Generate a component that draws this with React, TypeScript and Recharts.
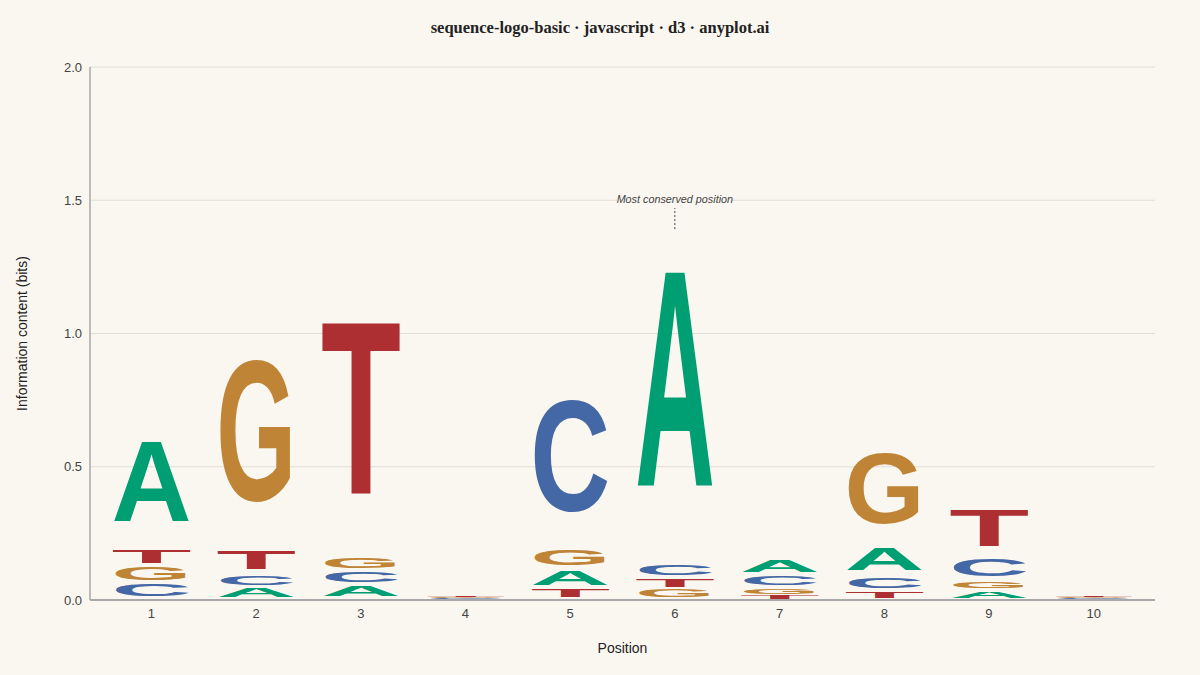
import { BarChart, Bar, XAxis, YAxis, CartesianGrid, ReferenceDot, Label } from "recharts";

const positions = ["1", "2", "3", "4", "5", "6", "7", "8", "9", "10"];
const letters = ["A", "C", "G", "T"];
const aBits = [0.408, 0.045, 0.052, 0.0035, 0.074, 1.097, 0.056, 0.108, 0.034, 0.003];
const cBits = [0.056, 0.047, 0.054, 0.0035, 0.559, 0.055, 0.046, 0.055, 0.084, 0.003];
const gBits = [0.064, 0.709, 0.055, 0.0035, 0.076, 0.0375, 0.028, 0.356, 0.035, 0.003];
const tBits = [0.065, 0.093, 0.877, 0.0035, 0.0375, 0.041, 0.016, 0.029, 0.185, 0.003];
const yTicks = [0, 0.5, 1, 1.5, 2];

const colors: Record<string, string> = {
  A: "#009E73",
  C: "#4467A6",
  G: "#BF8435",
  T: "#AD2F32",
};

const BG = "#FAF7F0";
const bits = [aBits, cBits, gBits, tBits];

// one row per position, letters sorted so the smallest sits at the bottom
const rows = positions.map((pos, i) => {
  const stack = letters
    .map((l, k) => ({ l, v: bits[k][i] }))
    .sort((a, b) => a.v - b.v);
  const row: Record<string, any> = { pos, total: 0 };
  stack.forEach((s, r) => {
    row[`r${r}`] = s.v;
    row[`l${r}`] = s.l;
    row.total += s.v;
  });
  return row;
});

const top = rows.reduce((best, r) => (r.total > best.total ? r : best), rows[0]);

const CAP = 69;
const ADV = 70;

function Glyph(props: any) {
  const { x, y, width, height, payload, rank } = props;
  const letter = payload[`l${rank}`];
  const glyphH = height * 0.73;
  if (!(glyphH > 0)) return null;
  const sx = width / ADV;
  const sy = glyphH / CAP;
  return (
    <text
      transform={`translate(${x + width / 2},${y + glyphH}) scale(${sx},${sy})`}
      x={0}
      y={0}
      textAnchor="middle"
      fontFamily="'Liberation Sans', Arial, sans-serif"
      fontWeight="bold"
      fontSize={100}
      textLength={ADV}
      lengthAdjust="spacingAndGlyphs"
      fill={colors[letter]}
    >
      {letter}
    </text>
  );
}

function Annotation(props: any) {
  const { cx, cy } = props;
  return (
    <g>
      <line x1={cx} x2={cx} y1={cy - 43} y2={cy - 64} stroke="#444" strokeWidth={1} strokeDasharray="2 2" />
      <rect x={cx - 57} y={cy - 80} width={114} height={13} fill={BG} />
      <text
        x={cx}
        y={cy - 73}
        textAnchor="middle"
        dominantBaseline="central"
        fontFamily="'Liberation Sans', Arial, sans-serif"
        fontStyle="italic"
        fontSize={10.8}
        fill="#444"
      >
        Most conserved position
      </text>
    </g>
  );
}

export default function App() {
  return (
    <div style={{ position: "absolute", left: 0, top: 0, width: 1200, height: 675, background: BG }}>
      <div
        style={{
          position: "absolute",
          top: 18,
          width: 1200,
          textAlign: "center",
          fontFamily: "'Liberation Serif', 'Times New Roman', serif",
          fontWeight: "bold",
          fontSize: 16.5,
          color: "#222",
        }}
      >
        sequence-logo-basic · javascript · d3 · anyplot.ai
      </div>
      <BarChart
        width={1200}
        height={675}
        data={rows}
        margin={{ top: 67, right: 45, bottom: 45, left: 30 }}
        barCategoryGap="12%"
      >
        <CartesianGrid vertical={false} stroke="#e2ded6" />
        <XAxis
          dataKey="pos"
          padding={{ left: 9, right: 9 }}
          height={30}
          tickLine={false}
          axisLine={{ stroke: "#a8a8a8", strokeWidth: 2 }}
          tick={{ fontSize: 13, fill: "#444", fontFamily: "'Liberation Sans', Arial, sans-serif" }}
          tickMargin={3}
        >
          <Label
            content={({ viewBox }: any) => (
              <text
                x={viewBox.x + viewBox.width / 2}
                y={648}
                textAnchor="middle"
                dominantBaseline="central"
                fontFamily="'Liberation Sans', Arial, sans-serif"
                fontSize={14}
                fill="#222"
              >
                Position
              </text>
            )}
          />
        </XAxis>
        <YAxis
          width={60}
          domain={[0, 2]}
          ticks={yTicks}
          tickFormatter={(v: number) => v.toFixed(1)}
          tickLine={false}
          axisLine={{ stroke: "#a8a8a8", strokeWidth: 1.5 }}
          tick={{ fontSize: 13, fill: "#444", fontFamily: "'Liberation Sans', Arial, sans-serif" }}
        >
          <Label
            content={({ viewBox }: any) => (
              <text
                x={22}
                y={viewBox.y + viewBox.height / 2}
                transform={`rotate(-90, 22, ${viewBox.y + viewBox.height / 2})`}
                textAnchor="middle"
                dominantBaseline="central"
                fontFamily="'Liberation Sans', Arial, sans-serif"
                fontSize={14}
                fill="#222"
              >
                Information content (bits)
              </text>
            )}
          />
        </YAxis>
        {[0, 1, 2, 3].map((r) => (
          <Bar
            key={r}
            dataKey={`r${r}`}
            stackId="logo"
            isAnimationActive={false}
            shape={(p: any) => <Glyph {...p} rank={r} />}
          />
        ))}
        <ReferenceDot x={top.pos} y={top.total} r={0} shape={(p: any) => <Annotation {...p} />} />
      </BarChart>
    </div>
  );
}
